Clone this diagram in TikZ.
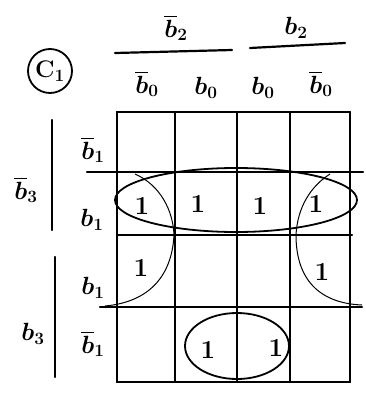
\documentclass[tikz,border=0pt]{standalone}
\usepackage{amsmath}
\usepackage{tikz}
\usetikzlibrary{positioning,calc}

\begin{document}
\begin{tikzpicture}[
    x=1pt, y=-1pt,
    grid/.style={line width=2.2pt, line cap=round},
    loopline/.style={line width=1.8pt},
    thinloop/.style={line width=1pt},
    lbl/.style={font=\fontsize{24}{28}\selectfont\boldmath, inner sep=1pt},
    one/.style={font=\fontsize{26}{30}\selectfont\bfseries, inner sep=1pt}
]
    \useasboundingbox (0,0) rectangle (366,394);

    % map title
    \node[lbl, draw, circle, line width=1.8pt, minimum size=44pt, inner sep=0pt] (title) at (50,71) {\textbf{C}$_1$};

    % column headings
    \node[lbl] (nb2) at (176,28) {$\overline{b}_2$};
    \node[lbl] (b2) at (296,28) {$b_2$};
    \draw[grid] (115,53) -- (232,50);
    \draw[grid] (250,48) -- (345,43);
    \node[lbl] (c1) at (147,84) {$\overline{b}_0$};
    \node[lbl] (c2) at (206,88) {$b_0$};
    \node[lbl] (c3) at (263,88) {$b_0$};
    \node[lbl] (c4) at (321,84) {$\overline{b}_0$};

    % row headings
    \node[lbl] (nb3) at (26,190) {$\overline{b}_3$};
    \node[lbl] (b3) at (33,334) {$b_3$};
    \draw[grid] (52,120) -- (52,230);
    \draw[grid] (55,257) -- (55,377);
    \node[lbl] (r1) at (93,150) {$\overline{b}_1$};
    \node[lbl] (r2) at (92,220) {$b_1$};
    \node[lbl] (r3) at (93,288) {$b_1$};
    \node[lbl] (r4) at (93,344) {$\overline{b}_1$};

    % grid
    \foreach \x in {117,175,237,290,350}
        \draw[grid] (\x,112) -- (\x,382);
    \draw[grid] (117,112) -- (350,112);
    \draw[grid] (87,172) -- (363,172);
    \draw[grid] (117,235) -- (352,235);
    \draw[grid] (100,307) -- (362,307);
    \draw[grid] (117,382) -- (350,382);

    % cell entries
    \node[one] (m21) at (142,206) {1};
    \node[one] (m22) at (198,204) {1};
    \node[one] (m23) at (260,206) {1};
    \node[one] (m24) at (316,204) {1};
    \node[one] (m31) at (141,268) {1};
    \node[one] (m34) at (322,272) {1};
    \node[one] (m42) at (208,350) {1};
    \node[one] (m43) at (276,348) {1};

    % groups
    \draw[loopline] (236,200) ellipse [x radius=121, y radius=32];
    \draw[loopline] (237,346) ellipse [x radius=52, y radius=33];
    \draw[thinloop] (135,174) .. controls (160,185) and (173,210) .. (174,235)
        .. controls (172,275) and (150,302) .. (105,306);
    \draw[thinloop] (330,174) .. controls (305,190) and (297,215) .. (296,235)
        .. controls (296,275) and (315,303) .. (362,305);
\end{tikzpicture}
\end{document}
